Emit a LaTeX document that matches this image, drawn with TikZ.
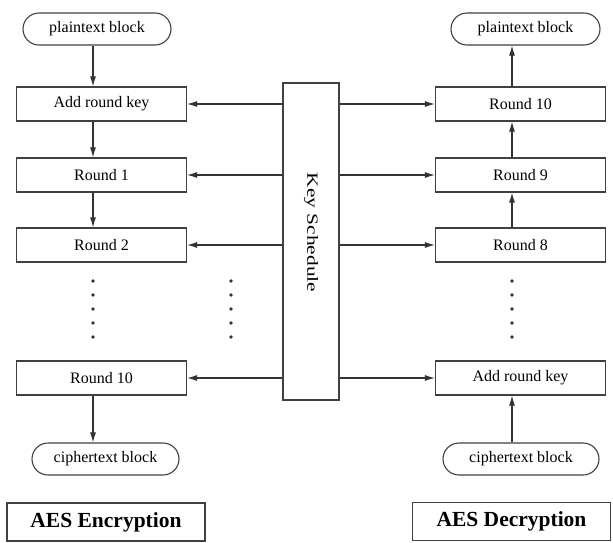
\documentclass[tikz,border=0pt]{standalone}
\usepackage{fontspec}
\setmainfont{Liberation Serif}
\usepackage{graphicx}
\usetikzlibrary{arrows.meta,shapes.misc}
\begin{document}
\begin{tikzpicture}[x=1pt,y=-1pt,
        blk/.style={draw=black!75,line width=1.1pt,minimum width=170pt,minimum height=34pt,inner sep=0pt,font=\fontsize{16}{18}\selectfont},
        txt/.style={draw=black!75,line width=1.1pt,rounded rectangle,minimum height=32pt,inner sep=0pt,font=\fontsize{16}{18}\selectfont},
        ttl/.style={draw=black!75,line width=1.4pt,minimum height=38pt,inner sep=0pt,font=\fontsize{21.5}{24}\selectfont\bfseries},
        arr/.style={draw=black!80,line width=1.1pt,-{Latex[length=10pt,width=6pt]}}]
    \useasboundingbox (0,0) rectangle (613,542);

    % encryption side
    \node[txt,minimum width=148pt] (pL) at (97,29) {plaintext block};
    \node[blk] (arkL) at (101.5,104) {Add round key};
    \node[blk] (r1L) at (101.5,175) {Round 1};
    \node[blk] (r2L) at (101.5,245) {Round 2};
    \node[blk] (r10L) at (101.5,378) {Round 10};
    \node[txt,minimum width=147pt] (cL) at (105.5,459) {ciphertext block};
    \node[ttl,minimum width=198pt] (encT) at (106,522) {AES Encryption};

    % key schedule
    \node[draw=black!75,line width=1.1pt,minimum width=56pt,minimum height=317pt,inner sep=0pt] (ks) at (311,241.5) {};
    \node[rotate=-90,font=\fontsize{15.5}{18}\selectfont] (ksT) at ([yshift=9pt]ks.center) {\scalebox{1.38}[1]{Key Schedule}};

    % decryption side
    \node[txt,minimum width=149pt] (pR) at (525.5,29) {plaintext block};
    \node[blk] (r10R) at (520.5,104) {Round 10};
    \node[blk] (r9R) at (520.5,175) {Round 9};
    \node[blk] (r8R) at (520.5,245) {Round 8};
    \node[blk] (arkR) at (520.5,378) {Add round key};
    \node[txt,minimum width=156pt] (cR) at (521,459) {ciphertext block};
    \node[ttl,minimum width=198pt] (decT) at (511.5,521.5) {AES Decryption};

    \coordinate (colL) at (93,0);
    \coordinate (colR) at (512,0);

    \draw[arr] (colL |- pL.south) -- (colL |- arkL.north);
    \draw[arr] (colL |- arkL.south) -- (colL |- r1L.north);
    \draw[arr] (colL |- r1L.south) -- (colL |- r2L.north);
    \draw[arr] (colL |- r10L.south) -- (colL |- cL.north);

    \draw[arr] (colR |- r10R.north) -- (colR |- pR.south);
    \draw[arr] (colR |- r9R.north) -- (colR |- r10R.south);
    \draw[arr] (colR |- r8R.north) -- (colR |- r9R.south);
    \draw[arr] (colR |- cR.north) -- (colR |- arkR.south);

    \foreach \n in {arkL,r1L,r2L,r10L}
        \draw[arr] (ks.west |- \n) -- (\n.east);
    \foreach \n in {r10R,r9R,r8R,arkR}
        \draw[arr] (ks.east |- \n) -- (\n.west);

    % dots
    \foreach \x in {93,231,512}
        \foreach \y in {281,295,...,337}
            \fill[black!80] (\x,\y) circle (1.8pt);
\end{tikzpicture}
\end{document}
